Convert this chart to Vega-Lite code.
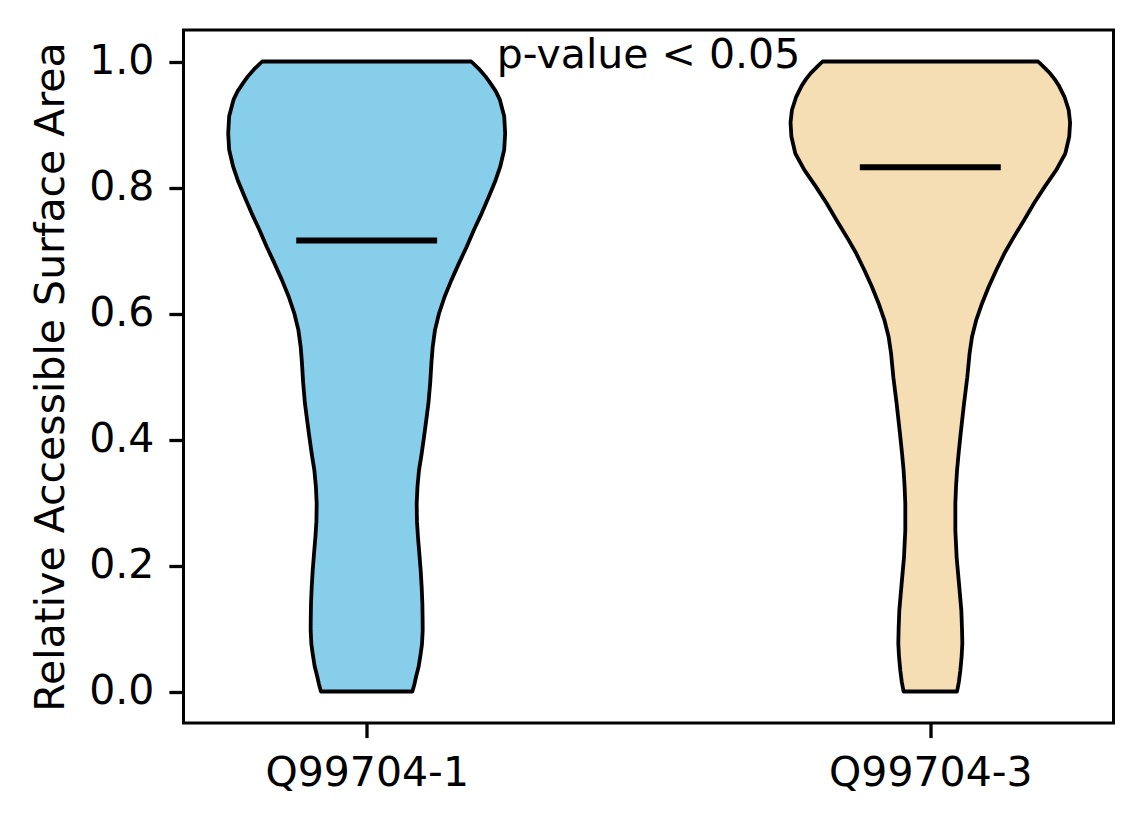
{
  "$schema": "https://vega.github.io/schema/vega-lite/v6.json",
  "width": 930,
  "height": 693,
  "autosize": "none",
  "padding": {"left": 183.5, "top": 30, "right": 30.5, "bottom": 101},
  "datasets": {
    "violins": [
      {"group": "Q99704-1", "v": 0.0, "lo": 0.9189, "hi": 1.0811},
      {"group": "Q99704-1", "v": 0.012, "lo": 0.9152, "hi": 1.0848},
      {"group": "Q99704-1", "v": 0.023, "lo": 0.9125, "hi": 1.0875},
      {"group": "Q99704-1", "v": 0.04, "lo": 0.9077, "hi": 1.0923},
      {"group": "Q99704-1", "v": 0.06, "lo": 0.9042, "hi": 1.0958},
      {"group": "Q99704-1", "v": 0.075, "lo": 0.9019, "hi": 1.0981},
      {"group": "Q99704-1", "v": 0.097, "lo": 0.9006, "hi": 1.0994},
      {"group": "Q99704-1", "v": 0.118, "lo": 0.9008, "hi": 1.0992},
      {"group": "Q99704-1", "v": 0.139, "lo": 0.9012, "hi": 1.0988},
      {"group": "Q99704-1", "v": 0.165, "lo": 0.9024, "hi": 1.0976},
      {"group": "Q99704-1", "v": 0.192, "lo": 0.9042, "hi": 1.0958},
      {"group": "Q99704-1", "v": 0.218, "lo": 0.9065, "hi": 1.0935},
      {"group": "Q99704-1", "v": 0.245, "lo": 0.909, "hi": 1.091},
      {"group": "Q99704-1", "v": 0.27, "lo": 0.9108, "hi": 1.0892},
      {"group": "Q99704-1", "v": 0.298, "lo": 0.9113, "hi": 1.0887},
      {"group": "Q99704-1", "v": 0.325, "lo": 0.9099, "hi": 1.0901},
      {"group": "Q99704-1", "v": 0.351, "lo": 0.9072, "hi": 1.0928},
      {"group": "Q99704-1", "v": 0.378, "lo": 0.9024, "hi": 1.0976},
      {"group": "Q99704-1", "v": 0.404, "lo": 0.8983, "hi": 1.1017},
      {"group": "Q99704-1", "v": 0.43, "lo": 0.8944, "hi": 1.1056},
      {"group": "Q99704-1", "v": 0.457, "lo": 0.8905, "hi": 1.1095},
      {"group": "Q99704-1", "v": 0.49, "lo": 0.8873, "hi": 1.1127},
      {"group": "Q99704-1", "v": 0.521, "lo": 0.8852, "hi": 1.1148},
      {"group": "Q99704-1", "v": 0.547, "lo": 0.8829, "hi": 1.1171},
      {"group": "Q99704-1", "v": 0.574, "lo": 0.8788, "hi": 1.1212},
      {"group": "Q99704-1", "v": 0.6, "lo": 0.8717, "hi": 1.1283},
      {"group": "Q99704-1", "v": 0.627, "lo": 0.8616, "hi": 1.1384},
      {"group": "Q99704-1", "v": 0.653, "lo": 0.8497, "hi": 1.1503},
      {"group": "Q99704-1", "v": 0.68, "lo": 0.8362, "hi": 1.1638},
      {"group": "Q99704-1", "v": 0.706, "lo": 0.8226, "hi": 1.1774},
      {"group": "Q99704-1", "v": 0.733, "lo": 0.8096, "hi": 1.1904},
      {"group": "Q99704-1", "v": 0.759, "lo": 0.796, "hi": 1.204},
      {"group": "Q99704-1", "v": 0.786, "lo": 0.783, "hi": 1.217},
      {"group": "Q99704-1", "v": 0.812, "lo": 0.7711, "hi": 1.2289},
      {"group": "Q99704-1", "v": 0.833, "lo": 0.7631, "hi": 1.2369},
      {"group": "Q99704-1", "v": 0.86, "lo": 0.756, "hi": 1.244},
      {"group": "Q99704-1", "v": 0.886, "lo": 0.7543, "hi": 1.2457},
      {"group": "Q99704-1", "v": 0.913, "lo": 0.756, "hi": 1.244},
      {"group": "Q99704-1", "v": 0.94, "lo": 0.764, "hi": 1.236},
      {"group": "Q99704-1", "v": 0.953, "lo": 0.7711, "hi": 1.2289},
      {"group": "Q99704-1", "v": 0.966, "lo": 0.7809, "hi": 1.2191},
      {"group": "Q99704-1", "v": 0.976, "lo": 0.7889, "hi": 1.2111},
      {"group": "Q99704-1", "v": 0.987, "lo": 0.7995, "hi": 1.2005},
      {"group": "Q99704-1", "v": 1.0, "lo": 0.8146, "hi": 1.1854},
      {"group": "Q99704-3", "v": 0.0, "lo": 1.9526, "hi": 2.0474},
      {"group": "Q99704-3", "v": 0.015, "lo": 1.9494, "hi": 2.0506},
      {"group": "Q99704-3", "v": 0.033, "lo": 1.9468, "hi": 2.0532},
      {"group": "Q99704-3", "v": 0.055, "lo": 1.9445, "hi": 2.0555},
      {"group": "Q99704-3", "v": 0.076, "lo": 1.9432, "hi": 2.0568},
      {"group": "Q99704-3", "v": 0.1, "lo": 1.9438, "hi": 2.0562},
      {"group": "Q99704-3", "v": 0.129, "lo": 1.945, "hi": 2.055},
      {"group": "Q99704-3", "v": 0.171, "lo": 1.9491, "hi": 2.0509},
      {"group": "Q99704-3", "v": 0.213, "lo": 1.9533, "hi": 2.0467},
      {"group": "Q99704-3", "v": 0.256, "lo": 1.9556, "hi": 2.0444},
      {"group": "Q99704-3", "v": 0.298, "lo": 1.9556, "hi": 2.0444},
      {"group": "Q99704-3", "v": 0.325, "lo": 1.9544, "hi": 2.0456},
      {"group": "Q99704-3", "v": 0.351, "lo": 1.9526, "hi": 2.0474},
      {"group": "Q99704-3", "v": 0.378, "lo": 1.9498, "hi": 2.0502},
      {"group": "Q99704-3", "v": 0.404, "lo": 1.9468, "hi": 2.0532},
      {"group": "Q99704-3", "v": 0.43, "lo": 1.9436, "hi": 2.0564},
      {"group": "Q99704-3", "v": 0.457, "lo": 1.9402, "hi": 2.0598},
      {"group": "Q99704-3", "v": 0.499, "lo": 1.9344, "hi": 2.0656},
      {"group": "Q99704-3", "v": 0.537, "lo": 1.9303, "hi": 2.0697},
      {"group": "Q99704-3", "v": 0.563, "lo": 1.926, "hi": 2.074},
      {"group": "Q99704-3", "v": 0.59, "lo": 1.9184, "hi": 2.0816},
      {"group": "Q99704-3", "v": 0.616, "lo": 1.9083, "hi": 2.0917},
      {"group": "Q99704-3", "v": 0.642, "lo": 1.8966, "hi": 2.1034},
      {"group": "Q99704-3", "v": 0.669, "lo": 1.8829, "hi": 2.1171},
      {"group": "Q99704-3", "v": 0.696, "lo": 1.8682, "hi": 2.1318},
      {"group": "Q99704-3", "v": 0.722, "lo": 1.8515, "hi": 2.1485},
      {"group": "Q99704-3", "v": 0.748, "lo": 1.8337, "hi": 2.1663},
      {"group": "Q99704-3", "v": 0.775, "lo": 1.816, "hi": 2.184},
      {"group": "Q99704-3", "v": 0.801, "lo": 1.7972, "hi": 2.2028},
      {"group": "Q99704-3", "v": 0.828, "lo": 1.7764, "hi": 2.2236},
      {"group": "Q99704-3", "v": 0.854, "lo": 1.7605, "hi": 2.2395},
      {"group": "Q99704-3", "v": 0.881, "lo": 1.7535, "hi": 2.2465},
      {"group": "Q99704-3", "v": 0.903, "lo": 1.752, "hi": 2.248},
      {"group": "Q99704-3", "v": 0.923, "lo": 1.7545, "hi": 2.2455},
      {"group": "Q99704-3", "v": 0.944, "lo": 1.762, "hi": 2.238},
      {"group": "Q99704-3", "v": 0.961, "lo": 1.7715, "hi": 2.2285},
      {"group": "Q99704-3", "v": 0.972, "lo": 1.7795, "hi": 2.2205},
      {"group": "Q99704-3", "v": 0.982, "lo": 1.7883, "hi": 2.2117},
      {"group": "Q99704-3", "v": 0.991, "lo": 1.7985, "hi": 2.2015},
      {"group": "Q99704-3", "v": 1.0, "lo": 1.8089, "hi": 2.1911}
    ],
    "medians": [
      {"group": "Q99704-1", "median": 0.716, "lo": 0.875, "hi": 1.125},
      {"group": "Q99704-3", "median": 0.832, "lo": 1.875, "hi": 2.125}
    ],
    "notes": [
      {"label": "p-value < 0.05", "x": 1.5, "y": 1.0}
    ]
  },
  "layer": [
    {
      "data": {"name": "violins"},
      "mark": {"type": "area", "orient": "horizontal", "interpolate": "linear", "stroke": "black", "strokeWidth": 3.8, "strokeJoin": "round", "fillOpacity": 1},
      "encoding": {
        "y": {
          "field": "v",
          "type": "quantitative",
          "scale": {"domain": [-0.05, 1.05], "nice": false, "zero": false},
          "axis": {
            "values": [0, 0.2, 0.4, 0.6, 0.8, 1.0],
            "format": ".1f",
            "title": "Relative Accessible Surface Area",
            "titleX": -120.5,
            "titleY": 346.5,
            "titleAngle": 270,
            "titleAlign": "center",
            "titleBaseline": "alphabetic",
            "labelPadding": 15
          }
        },
        "x": {
          "field": "lo",
          "type": "quantitative",
          "scale": {"domain": [0.675, 2.325], "nice": false, "zero": false},
          "axis": {
            "values": [1, 2],
            "labelExpr": "datum.value == 1 ? 'Q99704-1' : 'Q99704-3'",
            "title": null,
            "labelBaseline": "alphabetic",
            "labelPadding": 48
          }
        },
        "x2": {"field": "hi"},
        "color": {
          "field": "group",
          "type": "nominal",
          "scale": {"domain": ["Q99704-1", "Q99704-3"], "range": ["#87CEEB", "#F5DEB3"]},
          "legend": null
        }
      }
    },
    {
      "data": {"name": "medians"},
      "mark": {"type": "rule", "color": "black", "strokeWidth": 6},
      "encoding": {
        "y": {"field": "median", "type": "quantitative"},
        "x": {"field": "lo", "type": "quantitative"},
        "x2": {"field": "hi"}
      }
    },
    {
      "data": {"name": "notes"},
      "mark": {"type": "text", "align": "center", "baseline": "alphabetic", "dy": 6, "fontSize": 41, "font": "DejaVu Sans", "color": "black"},
      "encoding": {
        "x": {"field": "x", "type": "quantitative"},
        "y": {"field": "y", "type": "quantitative"},
        "text": {"field": "label"}
      }
    }
  ],
  "config": {
    "font": "DejaVu Sans",
    "view": {"stroke": "black", "strokeWidth": 3},
    "axis": {
      "domain": false,
      "grid": false,
      "ticks": true,
      "tickColor": "black",
      "tickSize": 14.6,
      "tickWidth": 3.3,
      "labelFont": "DejaVu Sans",
      "labelFontSize": 41,
      "labelColor": "black",
      "labelLimit": 0,
      "labelFlush": false,
      "labelOverlap": false,
      "titleFont": "DejaVu Sans",
      "titleFontSize": 41,
      "titleFontWeight": "normal",
      "titleColor": "black",
      "titleLimit": 0
    }
  }
}
